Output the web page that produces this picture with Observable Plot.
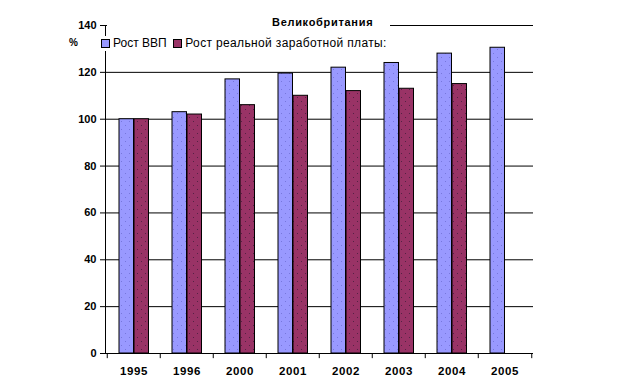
<!DOCTYPE html>
<html><head><meta charset="utf-8">
<script src="https://cdn.jsdelivr.net/npm/d3@7"></script>
<script src="https://cdn.jsdelivr.net/npm/@observablehq/plot@0.6"></script>
<style>
body{margin:0;background:#fff;font-family:"Liberation Sans",Arial,sans-serif;}
#wrap{position:relative;width:623px;height:388px;}
.ov{position:absolute;background:#fff;color:#000;white-space:nowrap;}
.sw{display:inline-block;width:7px;height:7px;border:1px solid #000;vertical-align:-1px;margin-right:3px;}
</style></head>
<body><div id="wrap"></div>
<script>
const years = ["1995","1996","2000","2001","2002","2003","2004","2005"];
const gdp = [100,103,117,119.5,122,124,128,130.5];
const wages = [100,102,106,110,112,113,115,null];
const seriesNames = ["Рост ВВП","Рост реальной заработной платы:"];
const colors = ["#9999FF","#993366"];
const yTicks = [0,20,40,60,80,100,120,140];
const title = "Великобритания";
const unit = "%";

const gdpRows = years.map((y,i)=>({year:y,value:gdp[i]}));
const wageRows = years.map((y,i)=>({year:y,value:wages[i]})).filter(d=>d.value!=null);
const bw = (533-105)/years.length;

const chart = Plot.plot({
  width:623, height:388,
  marginLeft:105, marginRight:90, marginTop:25, marginBottom:35,
  style:{fontFamily:'"Liberation Sans",Arial,sans-serif',fontSize:"11px",fontWeight:"bold",color:"#000",background:"#fff"},
  x:{domain:years, padding:0, label:null},
  y:{domain:[0,140], label:null},
  marks:[
    Plot.ruleY(yTicks.filter(t=>t>0),{stroke:"#000",strokeOpacity:1}),
    Plot.barY(gdpRows,{x:"year",y:"value",fill:"url(#pBlue)",stroke:"#000",strokeWidth:1,insetLeft:12,insetRight:bw-27}),
    Plot.barY(wageRows,{x:"year",y:"value",fill:"url(#pRed)",stroke:"#000",strokeWidth:1,insetLeft:27,insetRight:bw-42}),
    Plot.ruleY([0],{stroke:"#000"}),
    Plot.frame({anchor:"left",stroke:"#000"}),
    Plot.ruleX(years,{x:d=>d,y1:0,y2:-2.2,dx:-bw/2,stroke:"#000"}),
    Plot.ruleX([years[years.length-1]],{x:d=>d,y1:0,y2:-2.2,dx:bw/2,stroke:"#000"}),
    Plot.axisY({ticks:yTicks,tickSize:5,tickPadding:4,label:null}),
    Plot.axisX({tickSize:0,tickPadding:13,label:null,fontSize:"11.5px",style:{letterSpacing:"0.5px"}})
  ]
});
const ns="http://www.w3.org/2000/svg";
const defs=document.createElementNS(ns,"defs");
function pat(id,bg,dot){
  const p=document.createElementNS(ns,"pattern");
  p.setAttribute("id",id);p.setAttribute("width","8");p.setAttribute("height","8");p.setAttribute("patternUnits","userSpaceOnUse");
  const r=document.createElementNS(ns,"rect");r.setAttribute("width","8");r.setAttribute("height","8");r.setAttribute("fill",bg);p.appendChild(r);
  [[1,1],[5,5]].forEach(([x,y])=>{const d=document.createElementNS(ns,"rect");d.setAttribute("x",x);d.setAttribute("y",y);d.setAttribute("width","1");d.setAttribute("height","1");d.setAttribute("fill",dot);p.appendChild(d);});
  defs.appendChild(p);
}
pat("pBlue",colors[0],"#7777dd");
pat("pRed",colors[1],"#552244");
chart.insertBefore(defs,chart.firstChild);
chart.querySelectorAll('[aria-label="x-axis tick label"] text').forEach(e=>e.style.letterSpacing="0.6px");
const wrap=document.getElementById("wrap");
wrap.appendChild(chart);

const t=document.createElement("div");t.className="ov";
t.style.cssText+="left:107px;top:16px;width:283px;height:15px;font-size:11px;font-weight:bold;";
t.innerHTML=`<span style="position:absolute;left:165px;top:0px;letter-spacing:0.7px">${title}</span>`;
wrap.appendChild(t);
const lg=document.createElement("div");lg.className="ov";
lg.style.cssText+="left:101px;top:36px;height:15px;font-size:12px;line-height:15px;padding-right:4px;";
lg.innerHTML=`<span class="sw" style="background:${colors[0]}"></span>${seriesNames[0]}&nbsp;&nbsp;<span class="sw" style="background:${colors[1]}"></span><span style="letter-spacing:0.35px">${seriesNames[1]}</span>`;
wrap.appendChild(lg);
const u=document.createElement("div");u.className="ov";
u.style.cssText+="left:69px;top:37px;font-size:10px;font-weight:bold;";
u.textContent=unit;
wrap.appendChild(u);
</script></body></html>
